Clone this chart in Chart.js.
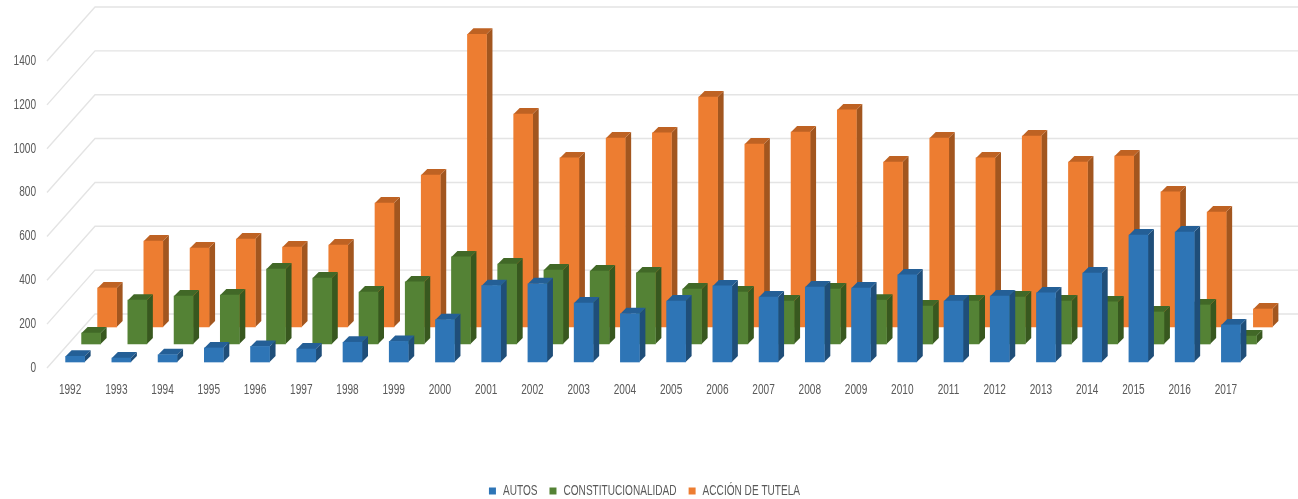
<!DOCTYPE html>
<html><head><meta charset="utf-8">
<style>html,body{margin:0;padding:0;background:#fff}#w{width:1298px;height:499px}canvas{filter:blur(.6px)}</style>
<script src="https://cdn.jsdelivr.net/npm/chart.js@4"></script></head>
<body><div id="w"><canvas id="c" width="1298" height="499"></canvas></div>
<script>
const categories=['1992','1993','1994','1995','1996','1997','1998','1999','2000','2001','2002','2003','2004','2005','2006','2007','2008','2009','2010','2011','2012','2013','2014','2015','2016','2017'];
const autos=[26,18,33,64,71,59,90,94,193,348,357,269,220,278,347,296,342,337,397,278,301,315,406,579,593,169];
const constitucionalidad=[50,200,219,223,342,301,237,283,397,365,337,333,324,251,237,196,251,200,173,196,214,196,192,146,178,36];
const tutela=[178,392,360,401,365,374,565,693,1335,971,771,862,885,1049,834,889,990,752,862,771,871,752,780,616,524,82];
const yTicks=[0,200,400,600,800,1000,1200,1400];
const FONT="'Liberation Sans',sans-serif";
const NARROW=.72;
const faces={
 0:{side:'#1F4E79',top:'#245F96',dx:5,dy:-6},
 1:{side:'#38581F',top:'#416827',dx:21,dy:-24},
 2:{side:'#A2561F',top:'#BE6223',dx:37,dy:-41}
};
const depth=6;
const wall={dx:48,dy:-54};
// condensed text: the reference's labels are a narrow face; fillText's maxWidth squeezes them
const canvas=document.getElementById('c'),c2d=canvas.getContext('2d');
const mT=c2d.measureText.bind(c2d),fT=c2d.fillText.bind(c2d);
c2d.measureText=t=>({width:mT(t).width*NARROW});
c2d.fillText=(t,x,y)=>fT(t,x,y,mT(t).width*NARROW);
const threeD={
 id:'threeD',
 afterLayout(chart){chart.legend.left+=20;chart.legend.right+=20;chart.legend.top+=9;chart.legend.bottom+=9;},
 beforeDatasetsDraw(chart){
  const {ctx,scales:{y},width}=chart,l=chart.chartArea.left;
  ctx.save();ctx.strokeStyle='#e4e4e4';ctx.lineWidth=1.4;
  yTicks.forEach(v=>{const p=y.getPixelForValue(v);
   ctx.beginPath();ctx.moveTo(l,p);ctx.lineTo(l+wall.dx,p+wall.dy);ctx.lineTo(width,p+wall.dy);ctx.stroke();});
  ctx.restore();
 },
 beforeDatasetDraw(chart,args){
  const f=faces[args.index],ctx=chart.ctx;
  ctx.save();ctx.translate(f.dx,f.dy);
  args.meta.data.forEach(el=>{
   const {x,y,base,width}=el.getProps(['x','y','base','width'],true);
   const a=x-width/2,b=x+width/2;
   ctx.fillStyle=f.side;ctx.beginPath();
   ctx.moveTo(b,y);ctx.lineTo(b+depth,y-depth);ctx.lineTo(b+depth,base-depth);ctx.lineTo(b,base);ctx.closePath();ctx.fill();
   ctx.fillStyle=f.top;ctx.beginPath();
   ctx.moveTo(a,y);ctx.lineTo(a+depth,y-depth);ctx.lineTo(b+depth,y-depth);ctx.lineTo(b,y);ctx.closePath();ctx.fill();
  });
 },
 afterDatasetDraw(chart){chart.ctx.restore();}
};
const common={grouped:false,barThickness:19,borderWidth:0,clip:false};
new Chart(canvas,{
 type:'bar',
 data:{labels:categories,datasets:[
  {label:'AUTOS',data:autos,backgroundColor:'#2E75B6',order:1,...common},
  {label:'CONSTITUCIONALIDAD',data:constitucionalidad,backgroundColor:'#548235',order:2,...common},
  {label:'ACCIÓN DE TUTELA',data:tutela,backgroundColor:'#ED7D31',order:3,...common}
 ]},
 plugins:[threeD],
 options:{
  responsive:false,animation:false,
  layout:{padding:{left:0,right:49,top:61,bottom:0}},
  plugins:{tooltip:{enabled:false},
   legend:{position:'bottom',labels:{boxWidth:7,boxHeight:7,padding:12,color:'#595959',font:{family:FONT,size:14}}}},
  scales:{
   x:{offset:true,grid:{display:false},border:{display:false},
      ticks:{color:'#595959',padding:6,maxRotation:0,autoSkip:false,font:{family:FONT,size:14}},
      afterFit(s){s.height=95}},
   y:{min:0,max:1400,grid:{display:false},border:{display:false},
      ticks:{stepSize:200,color:'#595959',padding:3,font:{family:FONT,size:14},callback:v=>String(v)},
      afterFit(s){s.width=47}}
  }
 }
});
</script></body></html>
